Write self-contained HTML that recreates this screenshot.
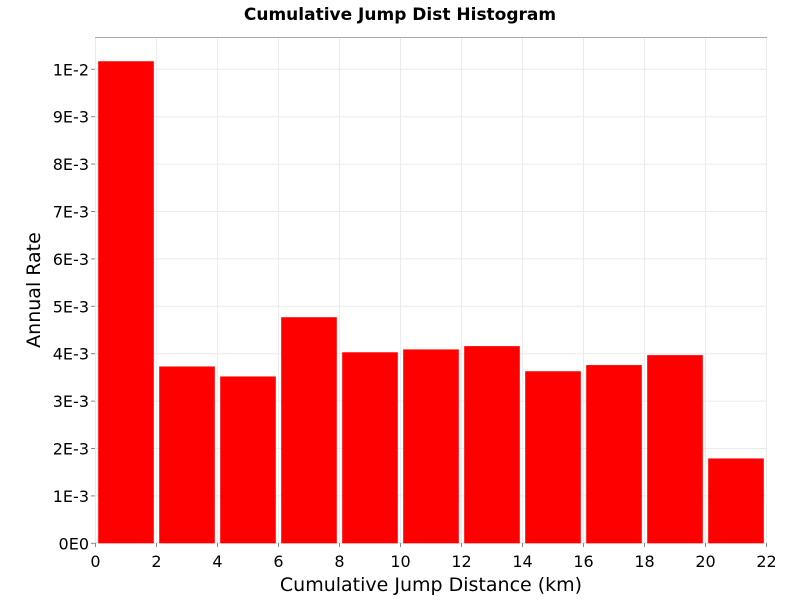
<!DOCTYPE html>
<html><head><meta charset="utf-8"><style>
body{margin:0;background:#fff;font-family:"Liberation Sans","DejaVu Sans",sans-serif}
svg text{font-family:"DejaVu Sans","Liberation Sans",sans-serif}
</style></head><body>
<svg id="chart" width="800" height="600" xmlns="http://www.w3.org/2000/svg">
<text x="400" y="20" text-anchor="middle" font-size="17" font-weight="bold">Cumulative Jump Dist Histogram</text>
<rect x="95.5" y="37.5" width="671" height="505.5" fill="#fff" stroke="#aaa"/>
<g id="grid"></g><g id="bars"></g><g id="axes"></g>
<text x="431" y="591" text-anchor="middle" font-size="19">Cumulative Jump Distance (km)</text>
<text transform="translate(40,290) rotate(-90)" text-anchor="middle" font-size="19">Annual Rate</text>
</svg>
<script>
const binStarts=[0,2,4,6,8,10,12,14,16,18,20];
const binWidth=2;
const rates=[10.17e-3,3.73e-3,3.52e-3,4.77e-3,4.03e-3,4.09e-3,4.16e-3,3.63e-3,3.76e-3,3.97e-3,1.79e-3];
const xTicks=[0,2,4,6,8,10,12,14,16,18,20,22];
const yTicks=[0,1e-3,2e-3,3e-3,4e-3,5e-3,6e-3,7e-3,8e-3,9e-3,1e-2];
const yTickLabels=["0E0","1E-3","2E-3","3E-3","4E-3","5E-3","6E-3","7E-3","8E-3","9E-3","1E-2"];
const NS="http://www.w3.org/2000/svg";
const X=v=>95.5+v*(671/22);
const Y=v=>543.3-v*47400;
function mk(tag,attrs,parent){const e=document.createElementNS(NS,tag);for(const k in attrs)e.setAttribute(k,attrs[k]);document.getElementById(parent).appendChild(e);return e;}
xTicks.forEach((t,i)=>{
  const g=mk('line',{x1:X(t),x2:X(t),y1:38,y2:543,stroke:'#ebebeb'},'grid');
  
  
  const tk=mk('line',{x1:X(t),x2:X(t),y1:543,y2:547,stroke:'#888'},'axes');
  
  
  const l=mk('text',{x:X(t),y:567,'text-anchor':'middle','font-size':16},'axes');
  l.textContent=t;
  
  
});
yTicks.forEach((t,i)=>{
  const g=mk('line',{x1:96,x2:766,y1:Y(t),y2:Y(t),stroke:'#ebebeb'},'grid');
  
  
  const tk=mk('line',{x1:91,x2:95,y1:Y(t),y2:Y(t),stroke:'#888'},'axes');
  
  
  const l=mk('text',{x:89,y:Y(t)+6,'text-anchor':'end','font-size':16},'axes');
  l.textContent=yTickLabels[i];
  
  
});
binStarts.forEach((s,i)=>{
  const x0=X(s)+2.7,x1=X(s+binWidth)-2.7;
  const r=mk('rect',{x:x0,y:Y(rates[i]),width:x1-x0,height:Y(0)-Y(rates[i]),fill:'#ff0000'},'bars');
  
  
});
</script>
</body></html>
